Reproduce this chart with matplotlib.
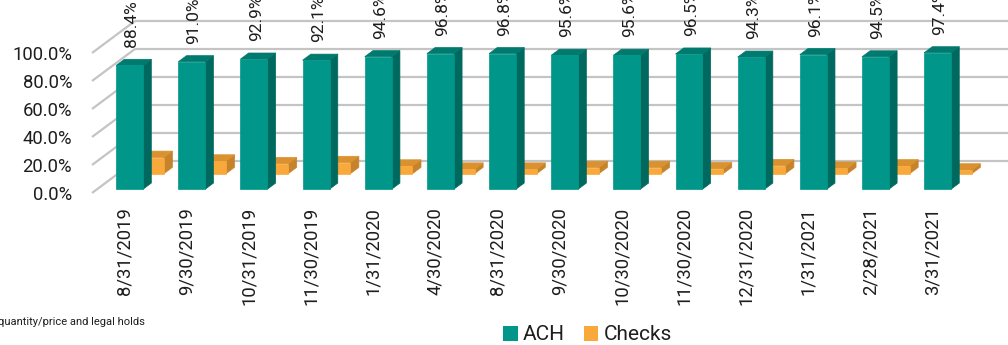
import matplotlib
matplotlib.use("Agg")
import matplotlib.pyplot as plt
from matplotlib.patches import Polygon, Patch

plt.rcParams['font.family'] = ['Roboto', 'DejaVu Sans']

# ---- data ----
categories = ["8/31/2019", "9/30/2019", "10/31/2019", "11/30/2019", "1/31/2020",
              "4/30/2020", "8/31/2020", "9/30/2020", "10/30/2020", "11/30/2020",
              "12/31/2020", "1/31/2021", "2/28/2021", "3/31/2021"]
ach = [88.4, 91.0, 92.9, 92.1, 94.6, 96.8, 96.8, 95.6, 95.6, 96.5, 94.3, 96.1, 94.5, 97.4]
checks = [11.6, 9.0, 7.1, 7.9, 5.4, 3.2, 3.2, 4.4, 4.4, 3.5, 5.7, 3.9, 5.5, 2.6]
y_ticks = [0, 20, 40, 60, 80, 100]
series_names = ["ACH", "Checks"]

# ---- style ----
W, H = 1008, 345
ach_cols = ("#00968A", "#00695F", "#007A6E")      # front, side, top
chk_cols = ("#F9A93B", "#C7832B", "#D9922F")
grid_col = "#C4C4C4"
text_col = "#1E1E1E"

# oblique depth vector (data units, full depth)
DX, DY = 0.692, 22.9
BAR_W = 0.434
ACH_D = (0.12, 0.31)
CHK_D = (0.60, 0.80)

fig = plt.figure(figsize=(W / 100, H / 100), dpi=100)
px_cat = 62.15
left_px, right_px = 92, 1008
ax = fig.add_axes([left_px / W, 152 / H, (right_px - left_px) / W, 140 / H])
xl = -(124.5 - left_px) / px_cat
xr = xl + (right_px - left_px) / px_cat
ax.set_xlim(xl, xr)
ax.set_ylim(0, 100)
for s in ax.spines.values():
    s.set_visible(False)


def P(x, y, d):
    return (x + d * DX, y + d * DY)


# gridlines: side wall diagonals and back wall
for v in y_ticks:
    ax.plot([P(xl, v, 0)[0], P(xl, v, 1)[0]], [P(xl, v, 0)[1], P(xl, v, 1)[1]],
            color=grid_col, lw=1.6, clip_on=False, zorder=1, solid_capstyle='butt')
    ax.plot([P(xl, v, 1)[0], xr + 2], [v + DY, v + DY],
            color=grid_col, lw=1.6, clip_on=False, zorder=1, solid_capstyle='butt')


def bar3d(xc, v, d, cols, z):
    x0, x1 = xc - BAR_W / 2, xc + BAR_W / 2
    d0, d1 = d
    front = [P(x0, 0, d0), P(x1, 0, d0), P(x1, v, d0), P(x0, v, d0)]
    side = [P(x1, 0, d0), P(x1, 0, d1), P(x1, v, d1), P(x1, v, d0)]
    top = [P(x0, v, d0), P(x1, v, d0), P(x1, v, d1), P(x0, v, d1)]
    for poly, c in ((side, cols[1]), (top, cols[2]), (front, cols[0])):
        ax.add_patch(Polygon(poly, closed=True, facecolor=c, edgecolor=c,
                             lw=0.5, zorder=z, clip_on=False))


for i, (a, c) in enumerate(zip(ach, checks)):
    bar3d(i, c, CHK_D, chk_cols, 2)
    bar3d(i, a, ACH_D, ach_cols, 3)
    ax.text(i + 0.12, a + ACH_D[1] * DY + 8.5, f"{a:.1f}%", rotation=90,
            ha='center', va='bottom', fontsize=12.5, color=text_col, clip_on=False)

ax.set_yticks(y_ticks)
ax.set_yticklabels([f"{v:.1f}%" for v in y_ticks], fontsize=13.3, color=text_col)
ax.set_xticks(range(len(categories)))
ax.set_xticklabels(categories, rotation=90, fontsize=13.3, color=text_col)
ax.tick_params(axis='y', length=0, pad=14.4)
ax.tick_params(axis='x', length=0, pad=10)

fig.text(-2 / W, 1 - 322 / H, "quantity/price and legal holds", fontsize=8,
         ha='left', va='center', color=text_col)

handles = [Patch(facecolor=ach_cols[0], edgecolor='none'),
           Patch(facecolor=chk_cols[0], edgecolor='none')]
fig.legend(handles, series_names, loc='center left',
           bbox_to_anchor=(503 / W, 1 - 335 / H), ncol=2, frameon=False,
           fontsize=15, handlelength=0.7, handleheight=0.7, handletextpad=0.25,
           columnspacing=0.9, borderpad=0, borderaxespad=0, labelcolor=text_col)

fig.savefig("out.png", dpi=100)
